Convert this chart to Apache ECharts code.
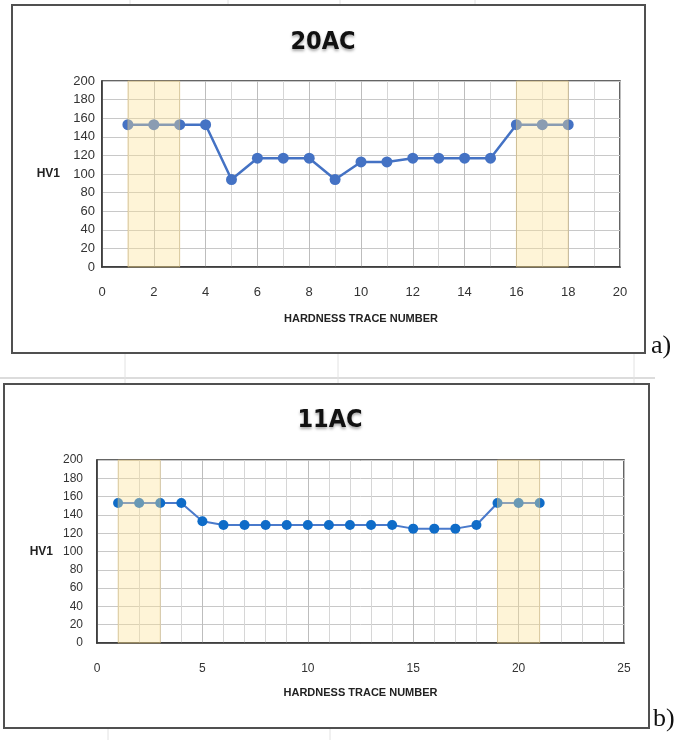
<!DOCTYPE html>
<html>
<head>
<meta charset="utf-8">
<script src="https://cdn.jsdelivr.net/npm/echarts@6/dist/echarts.min.js"></script>
<style>
  html, body { margin: 0; padding: 0; background: #fff; }
  #chart { width: 689px; height: 740px; }
</style>
</head>
<body>
<div id="chart"></div>
<script>
// 20AC (a)
const traceA = [1, 2, 3, 4, 5, 6, 7, 8, 9, 10, 11, 12, 13, 14, 15, 16, 17, 18];
const hvA = [153, 153, 153, 153, 94, 117, 117, 117, 94, 113, 113, 117, 117, 117, 117, 153, 153, 153];
const bandsA = [[1, 3], [16, 18]];
// 11AC (b)
const traceB = [1, 2, 3, 4, 5, 6, 7, 8, 9, 10, 11, 12, 13, 14, 15, 16, 17, 18, 19, 20, 21];
const hvB = [153, 153, 153, 153, 133, 129, 129, 129, 129, 129, 129, 129, 129, 129, 125, 125, 125, 129, 153, 153, 153];
const bandsB = [[1, 3], [19, 21]];

const titles = ['20AC', '11AC'];
const xName = 'HARDNESS TRACE NUMBER';
const yName = 'HV1';

const narrow = "'Liberation Sans Narrow', 'DejaVu Sans Condensed', sans-serif";
const sans = "'Liberation Sans', Arial, sans-serif";

const chart = echarts.init(document.getElementById('chart'));

function xAxisOf(idx, max, interval, minor, labelSize, margin) {
  return {
    type: 'value', gridIndex: idx, min: 0, max: max, interval: interval,
    name: xName, nameLocation: 'middle', nameGap: idx == 0 ? 46 : 44,
    nameTextStyle: { fontFamily: sans, fontWeight: 'bold', fontSize: 11, color: '#222' },
    axisLine: { show: true, lineStyle: { color: '#333', width: 1.5 } },
    axisTick: { show: false },
    axisLabel: { margin: margin, fontFamily: sans, fontSize: labelSize, color: '#333' },
    splitLine: { show: true, lineStyle: { color: '#bdbdbd', width: 1 } },
    minorTick: { show: false, splitNumber: minor },
    minorSplitLine: { show: true, lineStyle: { color: '#d6d6d6', width: 1 } }
  };
}

function yAxisOf(idx, margin, gap, labelSize) {
  return {
    type: 'value', gridIndex: idx, min: 0, max: 200, interval: 20,
    name: yName, nameLocation: 'middle', nameRotate: 0, nameGap: gap,
    nameTextStyle: { fontFamily: sans, fontWeight: 'bold', fontSize: 12, color: '#222' },
    axisLine: { show: true, lineStyle: { color: '#333', width: 1.5 } },
    axisTick: { show: false },
    axisLabel: { margin: margin, fontFamily: sans, fontSize: labelSize, color: '#333' },
    splitLine: { show: true, lineStyle: { color: '#c8c8c8', width: 1 } }
  };
}

// the shaded zones sit above the line, so the points inside them look greyed
function bandSeries(idx, bands) {
  return {
    type: 'line', xAxisIndex: idx, yAxisIndex: idx, data: [], z: 10, silent: true,
    markArea: {
      silent: true, z: 10,
      itemStyle: { color: 'rgba(253, 226, 150, 0.38)', borderColor: 'rgba(214, 184, 110, 0.45)', borderWidth: 1 },
      data: bands.map(b => [{ xAxis: b[0] }, { xAxis: b[1] }])
    }
  };
}

const option = {
  backgroundColor: '#fff',
  animation: false,
  title: [
    { text: titles[0], left: 318, top: 25, textAlign: 'center',
      textStyle: { fontFamily: narrow, fontWeight: 'bold', fontSize: 25, color: '#111',
        textShadowColor: 'rgba(0,0,0,0.35)', textShadowBlur: 3, textShadowOffsetY: 2 } },
    { text: titles[1], left: 325, top: 403, textAlign: 'center',
      textStyle: { fontFamily: narrow, fontWeight: 'bold', fontSize: 25, color: '#111',
        textShadowColor: 'rgba(0,0,0,0.35)', textShadowBlur: 3, textShadowOffsetY: 2 } }
  ],
  graphic: [
    // faint sheet gridlines behind the figures
    { type: 'line', shape: { x1: 130, y1: 0, x2: 130, y2: 5 }, style: { stroke: '#e2e2e2', lineWidth: 1 } },
    { type: 'line', shape: { x1: 228, y1: 0, x2: 228, y2: 5 }, style: { stroke: '#e2e2e2', lineWidth: 1 } },
    { type: 'line', shape: { x1: 340, y1: 0, x2: 340, y2: 5 }, style: { stroke: '#e2e2e2', lineWidth: 1 } },
    { type: 'line', shape: { x1: 475, y1: 0, x2: 475, y2: 5 }, style: { stroke: '#e2e2e2', lineWidth: 1 } },
    { type: 'line', shape: { x1: 0, y1: 378, x2: 655, y2: 378 }, style: { stroke: '#dcdcdc', lineWidth: 2 } },
    { type: 'line', shape: { x1: 125, y1: 353, x2: 125, y2: 384 }, style: { stroke: '#e2e2e2', lineWidth: 1 } },
    { type: 'line', shape: { x1: 338, y1: 353, x2: 338, y2: 384 }, style: { stroke: '#e2e2e2', lineWidth: 1 } },
    { type: 'line', shape: { x1: 634, y1: 353, x2: 634, y2: 384 }, style: { stroke: '#e2e2e2', lineWidth: 1 } },
    { type: 'line', shape: { x1: 108, y1: 728, x2: 108, y2: 740 }, style: { stroke: '#e2e2e2', lineWidth: 1 } },
    { type: 'line', shape: { x1: 330, y1: 728, x2: 330, y2: 740 }, style: { stroke: '#e2e2e2', lineWidth: 1 } },
    // outer figure boxes
    { type: 'rect', shape: { x: 12, y: 5, width: 633, height: 348 }, style: { fill: 'none', stroke: '#505050', lineWidth: 2 } },
    { type: 'rect', shape: { x: 4, y: 384, width: 645, height: 344 }, style: { fill: 'none', stroke: '#505050', lineWidth: 2 } },
    { type: 'text', left: 651, top: 333, style: { text: 'a)', font: "26px 'Liberation Serif', 'Times New Roman', serif", fill: '#111' } },
    { type: 'text', left: 653, top: 706, style: { text: 'b)', font: "26px 'Liberation Serif', 'Times New Roman', serif", fill: '#111' } }
  ],
  grid: [
    { left: 102, top: 81, width: 518, height: 186, show: true, backgroundColor: '#fff', borderColor: '#333', borderWidth: 1.5 },
    { left: 97, top: 460, width: 527, height: 183, show: true, backgroundColor: '#fff', borderColor: '#333', borderWidth: 1.5 }
  ],
  xAxis: [
    xAxisOf(0, 20, 2, 2, 13, 19),
    xAxisOf(1, 25, 5, 5, 12, 20)
  ],
  yAxis: [
    yAxisOf(0, 7, 42, 13),
    yAxisOf(1, 14, 44, 12)
  ],
  series: [
    {
      type: 'line', xAxisIndex: 0, yAxisIndex: 0, z: 3,
      data: traceA.map((x, i) => [x, hvA[i]]),
      symbol: 'circle', symbolSize: 11,
      lineStyle: { color: '#4472c4', width: 2.5 },
      itemStyle: { color: '#4472c4' }
    },
    bandSeries(0, bandsA),
    {
      type: 'line', xAxisIndex: 1, yAxisIndex: 1, z: 3,
      data: traceB.map((x, i) => [x, hvB[i]]),
      symbol: 'circle', symbolSize: 10,
      lineStyle: { color: '#4a7acb', width: 2 },
      itemStyle: { color: '#0f6cc8' }
    },
    bandSeries(1, bandsB)
  ]
};

chart.setOption(option);
</script>
</body>
</html>
